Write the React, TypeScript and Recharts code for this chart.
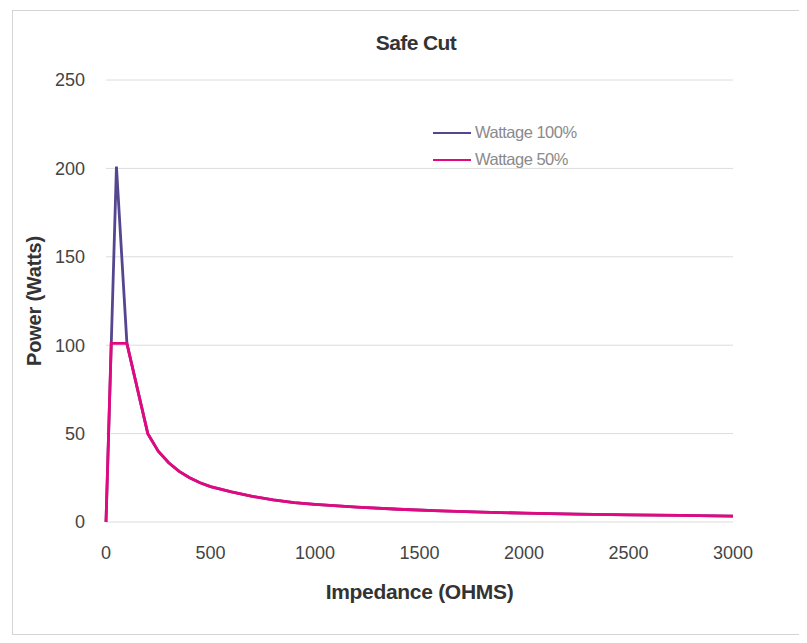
import { LineChart, Line, XAxis, YAxis, CartesianGrid } from "recharts"

const impedance = [0, 25, 50, 100, 200, 250, 300, 350, 400, 450, 500, 600, 700, 800, 900, 1000, 1200, 1400, 1600, 1800, 2000, 2250, 2500, 2750, 3000]
const wattage100 = [0, 100, 201, 101, 50, 40, 33.5, 28.6, 25, 22.2, 20, 17, 14.5, 12.5, 11, 10, 8.4, 7.2, 6.3, 5.6, 5, 4.5, 4, 3.7, 3.3]
const wattage50 = [0, 101, 101, 101, 50, 40, 33.5, 28.6, 25, 22.2, 20, 17, 14.5, 12.5, 11, 10, 8.4, 7.2, 6.3, 5.6, 5, 4.5, 4, 3.7, 3.3]
const xTicks = [0, 500, 1000, 1500, 2000, 2500, 3000]
const yTicks = [0, 50, 100, 150, 200, 250]

const BLUE = "#55468f"
const PINK = "#e5077f"
const FONT = "'Liberation Sans', Arial, sans-serif"

const data = impedance.map((x, i) => ({ x, w100: wattage100[i], w50: wattage50[i] }))

// legend drawn as plain html so it doesn't eat plot space
function LegendBox() {
  const items = [
    { label: "Wattage 100%", color: BLUE },
    { label: "Wattage 50%", color: PINK },
  ]
  return (
    <div style={{ position: "absolute", top: 108, left: 420, fontSize: 16.5, color: "#8a8a8a", letterSpacing: -0.5 }}>
      {items.map((it) => (
        <div key={it.label} style={{ display: "flex", alignItems: "center", height: 27 }}>
          <span style={{ display: "inline-block", width: 38, height: 2, background: it.color, marginRight: 4 }} />
          {it.label}
        </div>
      ))}
    </div>
  )
}

export default function App() {
  return (
    <div
      style={{
        position: "relative",
        marginLeft: 4,
        marginTop: 2,
        width: 786,
        height: 623,
        border: "1px solid #d4d4d4",
        background: "#fff",
        fontFamily: FONT,
      }}
    >
      <div
        style={{
          position: "absolute",
          top: 20,
          left: 0,
          width: 806,
          textAlign: "center",
          fontWeight: "bold",
          fontSize: 21,
          color: "#333",
          letterSpacing: -0.6,
        }}
      >
        Safe Cut
      </div>
      <LegendBox />
      <LineChart width={786} height={623} data={data} margin={{ top: 69, right: 66, left: 33, bottom: 82 }}>
        <CartesianGrid horizontal vertical={false} stroke="#dcdcdc" />
        <XAxis
          dataKey="x"
          type="number"
          domain={[0, 3000]}
          ticks={xTicks}
          axisLine={false}
          tickLine={false}
          tickMargin={18}
          tick={{ fontSize: 18, fill: "#444", fontFamily: FONT }}
          height={30}
          label={{
            value: "Impedance (OHMS)",
            position: "bottom",
            offset: 32,
            style: { fontSize: 21, fontWeight: "bold", fill: "#333", fontFamily: FONT, letterSpacing: -0.3 },
          }}
        />
        <YAxis
          type="number"
          domain={[0, 250]}
          ticks={yTicks}
          axisLine={false}
          tickLine={false}
          tickMargin={15}
          width={60}
          tick={{ fontSize: 18, fill: "#444", fontFamily: FONT }}
          label={{
            value: "Power (Watts)",
            angle: -90,
            position: "center",
            dx: -42,
            style: { fontSize: 20, fontWeight: "bold", fill: "#333", fontFamily: FONT, letterSpacing: -0.2 },
          }}
        />
        <Line type="linear" dataKey="w100" name="Wattage 100%" stroke={BLUE} strokeWidth={2.8} dot={false} isAnimationActive={false} />
        <Line type="linear" dataKey="w50" name="Wattage 50%" stroke={PINK} strokeWidth={2.8} dot={false} isAnimationActive={false} />
      </LineChart>
    </div>
  )
}
